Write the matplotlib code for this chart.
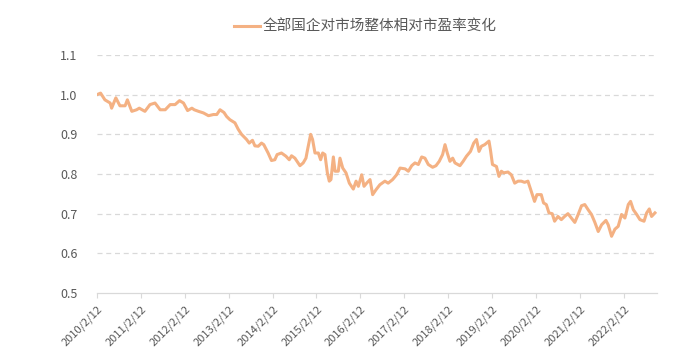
import numpy as np
import pandas as pd
import matplotlib
matplotlib.use("Agg")
import matplotlib.pyplot as plt
import matplotlib.dates as mdates

plt.rcParams["font.family"] = ["Noto Sans CJK SC", "DejaVu Sans"]

# 读图得到的数据点
dates = [
    "2010-02-12", "2010-03-14", "2010-04-19", "2010-06-02", "2010-06-14", "2010-07-19",
    "2010-08-22", "2010-10-04", "2010-10-23", "2010-11-29", "2011-01-08", "2011-01-30",
    "2011-03-18", "2011-04-29", "2011-06-10", "2011-07-23", "2011-09-03", "2011-10-14",
    "2011-11-24", "2011-12-31", "2012-02-02", "2012-03-07", "2012-04-12", "2012-05-01",
    "2012-06-06", "2012-07-17", "2012-08-28", "2012-10-08", "2012-11-05", "2012-12-02",
    "2013-01-04", "2013-01-26", "2013-02-22", "2013-04-05", "2013-05-02", "2013-05-30",
    "2013-07-11", "2013-08-02", "2013-08-29", "2013-09-18", "2013-10-16", "2013-11-12",
    "2013-12-01", "2014-01-06", "2014-02-03", "2014-03-03", "2014-03-22", "2014-04-27",
    "2014-06-03", "2014-07-01", "2014-07-20", "2014-08-17", "2014-09-28", "2014-10-25",
    "2014-11-17", "2014-11-30", "2014-12-26", "2015-01-11", "2015-01-31", "2015-02-28",
    "2015-03-19", "2015-04-05", "2015-04-24", "2015-05-14", "2015-05-30", "2015-06-13",
    "2015-07-03", "2015-07-17", "2015-08-13", "2015-08-27", "2015-09-19", "2015-10-16",
    "2015-11-13", "2015-12-16", "2016-01-08", "2016-01-27", "2016-02-24", "2016-03-14",
    "2016-04-05", "2016-05-03", "2016-05-25", "2016-06-21", "2016-07-24", "2016-09-04",
    "2016-10-01", "2016-11-07", "2016-12-10", "2017-01-08", "2017-02-19", "2017-03-18",
    "2017-04-15", "2017-05-12", "2017-06-09", "2017-07-07", "2017-08-03", "2017-08-31",
    "2017-10-06", "2017-11-03", "2017-11-30", "2017-12-28", "2018-01-17", "2018-02-05",
    "2018-02-27", "2018-03-22", "2018-04-10", "2018-05-21", "2018-06-17", "2018-07-15",
    "2018-08-17", "2018-09-13", "2018-10-06", "2018-10-27", "2018-11-16", "2018-12-13",
    "2019-01-18", "2019-01-30", "2019-02-16", "2019-03-21", "2019-04-11", "2019-05-01",
    "2019-05-20", "2019-06-25", "2019-07-23", "2019-08-20", "2019-09-17", "2019-10-14",
    "2019-11-10", "2019-12-08", "2020-01-05", "2020-02-01", "2020-02-21", "2020-03-28",
    "2020-04-16", "2020-05-09", "2020-05-31", "2020-06-27", "2020-07-17", "2020-08-14",
    "2020-09-11", "2020-10-08", "2020-11-05", "2020-12-03", "2021-01-01", "2021-01-29",
    "2021-02-26", "2021-03-25", "2021-04-22", "2021-05-20", "2021-06-17", "2021-07-15",
    "2021-08-12", "2021-09-17", "2021-10-06", "2021-11-03", "2021-12-01", "2021-12-28",
    "2022-01-25", "2022-02-22", "2022-03-22", "2022-04-10", "2022-05-03", "2022-05-31",
    "2022-06-27", "2022-07-31", "2022-08-22", "2022-09-13", "2022-10-02", "2022-10-30",
]
values = [
    1.000, 1.004, 0.987, 0.979, 0.966, 0.992,
    0.972, 0.972, 0.987, 0.958, 0.962, 0.966,
    0.958, 0.975, 0.979, 0.962, 0.962, 0.975,
    0.975, 0.985, 0.979, 0.960, 0.966, 0.962,
    0.958, 0.954, 0.947, 0.950, 0.950, 0.962,
    0.955, 0.945, 0.937, 0.929, 0.913, 0.900,
    0.887, 0.878, 0.885, 0.871, 0.870, 0.878,
    0.874, 0.853, 0.834, 0.836, 0.849, 0.853,
    0.845, 0.836, 0.846, 0.840, 0.821, 0.828,
    0.840, 0.861, 0.900, 0.887, 0.853, 0.853,
    0.836, 0.853, 0.849, 0.803, 0.782, 0.786,
    0.843, 0.807, 0.807, 0.840, 0.815, 0.803,
    0.777, 0.762, 0.782, 0.769, 0.798, 0.769,
    0.777, 0.786, 0.748, 0.760, 0.773, 0.782,
    0.777, 0.786, 0.798, 0.815, 0.813, 0.807,
    0.821, 0.828, 0.824, 0.843, 0.840, 0.824,
    0.817, 0.821, 0.832, 0.849, 0.874, 0.853,
    0.832, 0.840, 0.828, 0.821, 0.832, 0.845,
    0.857, 0.878, 0.887, 0.857, 0.870, 0.874,
    0.883, 0.861, 0.824, 0.819, 0.794, 0.807,
    0.803, 0.805, 0.798, 0.777, 0.782, 0.782,
    0.779, 0.782, 0.756, 0.731, 0.748, 0.748,
    0.727, 0.723, 0.702, 0.700, 0.681, 0.693,
    0.685, 0.693, 0.700, 0.689, 0.678, 0.698,
    0.720, 0.723, 0.710, 0.698, 0.678, 0.655,
    0.672, 0.683, 0.672, 0.643, 0.661, 0.668,
    0.698, 0.689, 0.723, 0.731, 0.710, 0.698,
    0.685, 0.681, 0.702, 0.712, 0.693, 0.702,
]
tick_dates = [f"{y}-02-12" for y in range(2010, 2023)]
tick_labels = [f"{y}/2/12" for y in range(2010, 2023)]
yticks = [0.5, 0.6, 0.7, 0.8, 0.9, 1.0, 1.1]

label = "全部国企对市场整体相对市盈率变化"
line_color = "#F4B183"
text_color = "#595959"
grid_color = "#D9D9D9"

df = pd.DataFrame({"date": pd.to_datetime(dates), "value": values})

fig = plt.figure(figsize=(6.8, 3.62), dpi=100)
ax = fig.add_axes([0.1426, 0.1906, 0.8234, 0.6574])

ax.plot(df["date"], df["value"], color=line_color, linewidth=2.2, label=label,
        solid_joinstyle="round")

ax.set_ylim(0.5, 1.1)
ax.set_xlim(df["date"].iloc[0], pd.Timestamp("2022-11-15"))
ax.set_yticks(yticks)
ax.set_yticklabels([f"{v:.1f}" for v in yticks])
ax.set_xticks(pd.to_datetime(tick_dates))
ax.set_xticklabels(tick_labels, rotation=45, ha="right", rotation_mode="anchor")

for v in yticks[1:]:
    ax.axhline(v, color=grid_color, linewidth=0.9, linestyle=(0, (4, 3)), zorder=0)

for side in ["left", "right", "top"]:
    ax.spines[side].set_visible(False)
ax.spines["bottom"].set_color(grid_color)
ax.spines["bottom"].set_linewidth(0.9)

ax.tick_params(axis="y", length=0, pad=14, labelsize=9, labelcolor=text_color)
ax.tick_params(axis="x", length=3.5, width=0.8, color=grid_color, pad=4,
               labelsize=8, labelcolor=text_color)

leg = fig.legend(loc="center", bbox_to_anchor=(0.537, 0.925), frameon=False,
                 fontsize=10.5, handlelength=1.8, handletextpad=0.2)
for t in leg.get_texts():
    t.set_color(text_color)

fig.savefig("out.png", dpi=100)
